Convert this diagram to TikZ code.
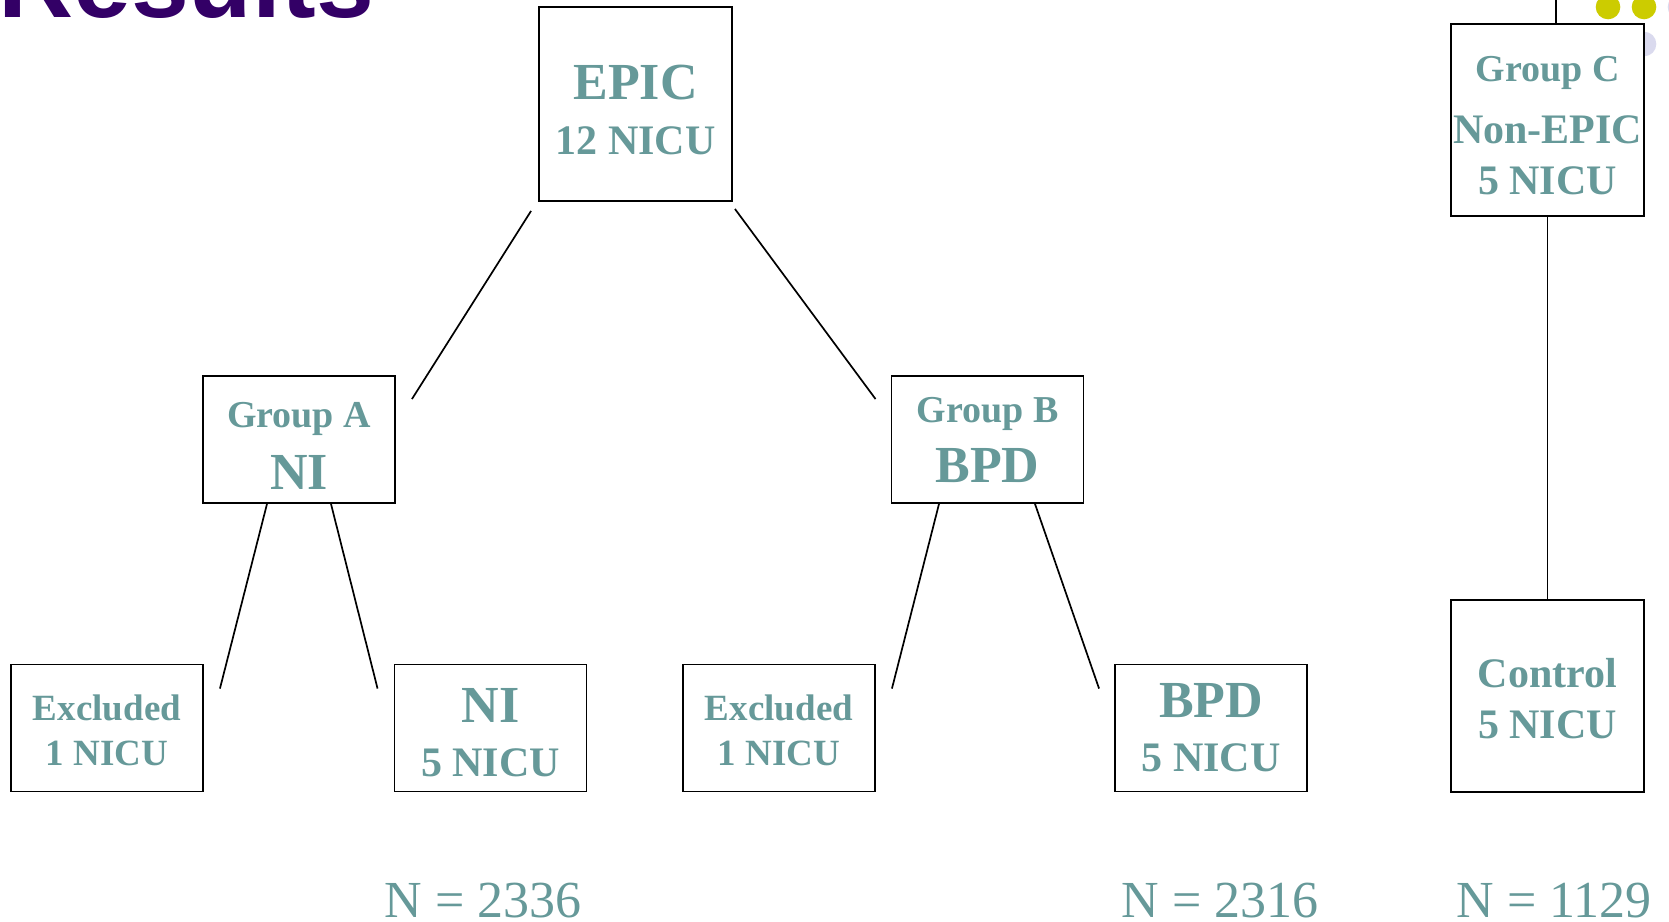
\documentclass[tikz,border=0pt]{standalone}
\usepackage{fontspec}
\setmainfont{Liberation Serif}
\newfontfamily\titlefont{Liberation Sans}
\usetikzlibrary{calc}
\definecolor{nicuteal}{HTML}{669999}
\definecolor{titlepurple}{HTML}{330066}
\definecolor{dotyellow}{HTML}{CCCC00}
\definecolor{dotlavender}{HTML}{DADAEE}
\def\sz#1#2{\fontsize{#1}{#2}\selectfont}
\def\lift#1{\rule{0pt}{#1}}

\begin{document}
\begin{tikzpicture}[x=1pt, y=-1pt,
		box/.style={draw, line width=1.9pt, fill=white, minimum width=192pt, minimum height=127pt, inner sep=0pt, align=center, text=nicuteal},
		link/.style={line width=1.7pt},
		count/.style={anchor=base, inner sep=0pt, text=nicuteal, font=\sz{52}{52}}]
		%%%%% START %%%%%
		\useasboundingbox (0, 0) rectangle (1669, 921);
		
		\node[anchor=base west, inner sep=0pt, text=titlepurple, font=\titlefont\bfseries\sz{104}{104}] (title) at (-2, 17) {Results};
		
		\fill[dotyellow] (1608, 7) circle[radius=12.3pt];
		\fill[dotyellow] (1644, 7) circle[radius=12.3pt];
		\fill[dotlavender] (1680, 7) circle[radius=12.3pt];
		\fill[dotlavender] (1644, 44) circle[radius=12.3pt];
		
		\node[box, minimum width=193pt, minimum height=194pt, font=\bfseries\sz{42}{55}] (epic) at (635.5, 104) {\sz{52}{55}\lift{47pt}EPIC\\12 NICU};
		
		\node[box, font=\bfseries\sz{52}{62}] (grpA) at (299, 439.5) {\sz{38}{62}\lift{38pt}Group A\\NI};
		\node[box, font=\bfseries\sz{52}{60}] (grpB) at (987.5, 439.5) {\sz{38}{60}Group B\\BPD};
		
		\node[box, font=\bfseries\sz{37}{45}] (exclA) at (107, 728) {\lift{30pt}Excluded\\1 NICU};
		\node[box, font=\bfseries\sz{42}{54}] (ni) at (490.5, 728) {\sz{52}{54}\lift{43pt}NI\\5 NICU};
		\node[box, font=\bfseries\sz{42}{54}] (bpd) at (1211, 728) {\sz{52}{54}BPD\\5 NICU};
		\node[box, font=\bfseries\sz{37}{45}] (exclB) at (779, 728) {\lift{30pt}Excluded\\1 NICU};
		
		\node[box, minimum width=193pt, minimum height=192pt, font=\bfseries\sz{42}{51}] (grpC) at (1547.5, 120) {\sz{38}{51}\lift{36pt}Group C\\[11pt]Non-EPIC\\5 NICU};
		\node[box, minimum width=193pt, minimum height=192pt, font=\bfseries\sz{42}{51}] (ctrl) at (1547.5, 696) {\lift{34pt}Control\\5 NICU};
		
		\draw[link] ([xshift=-7pt, yshift=-9pt]epic.south west) -- ([xshift=16pt, yshift=-24pt]grpA.north east);
		\draw[link] ([xshift=2pt, yshift=-7pt]epic.south east) -- ([xshift=-15pt, yshift=-24pt]grpB.north west);
		
		\draw[link] ([xshift=-32pt]grpA.south) -- ([xshift=16pt, yshift=-25pt]exclA.north east);
		\draw[link] ([xshift=32pt]grpA.south) -- ([xshift=-16pt, yshift=-25pt]ni.north west);
		\draw[link] ([xshift=-48.5pt]grpB.south) -- ([xshift=16pt, yshift=-25pt]exclB.north east);
		\draw[link] ([xshift=47.5pt]grpB.south) -- ([xshift=-15pt, yshift=-25pt]bpd.north west);
		
		\coordinate (ctop) at (1556, 0);
		\draw[link] (ctop) -- (ctop |- grpC.north);
		\draw[link] (grpC.south) -- (ctrl.north);
		
		\node[count] (nA) at (483, 917) {N = 2336};
		\node[count] (nB) at (1220, 917) {N = 2316};
		\node[count] (nC) at (1554, 917) {N = 1129};
		
		%%%%% END %%%%%
\end{tikzpicture}
\end{document}
